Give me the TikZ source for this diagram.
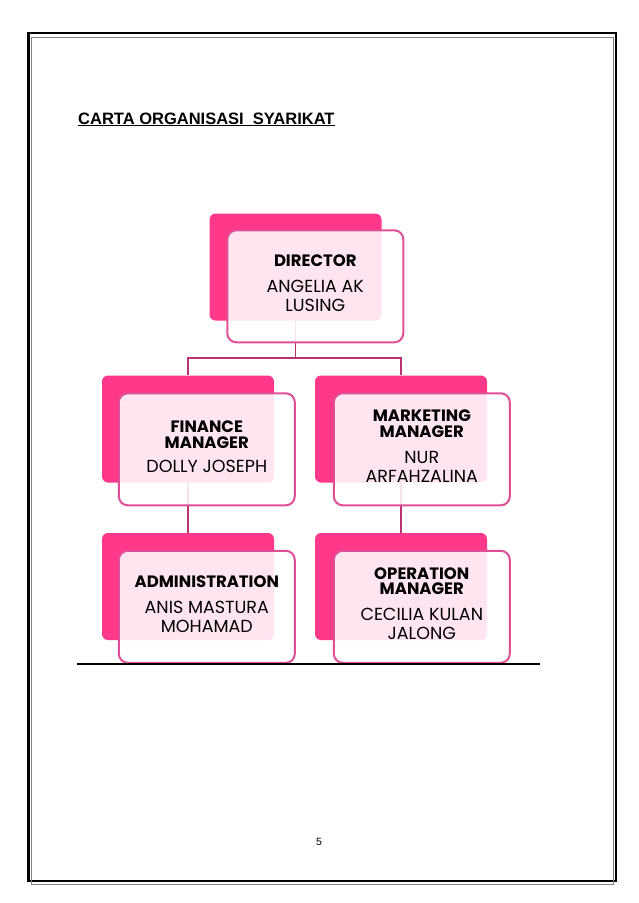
\documentclass[tikz,border=0pt]{standalone}
\usepackage{fontspec}
\setmainfont{Poppins}
\newfontfamily\arialfont{Liberation Sans}
\usepackage{tikz}
\usetikzlibrary{positioning, calc}
\usepackage{xcolor}
\definecolor{hotPink}{HTML}{FF388A}
\definecolor{edgePink}{HTML}{DE4F96}
\definecolor{linkPink}{HTML}{B8336F}

\newcommand{\ttl}{\bfseries\fontsize{16.5}{17}\selectfont}
\newcommand{\nm}{\fontsize{17.5}{19}\selectfont}

\tikzset{
  backbox/.style={fill=hotPink, rounded corners=6pt, minimum width=172pt,
                  minimum height=107pt, inner sep=0pt},
  frontbox/.style={draw=edgePink, line width=2pt, fill=white, fill opacity=0.87,
                   text opacity=1, rounded corners=9pt, minimum width=176pt,
                   minimum height=112pt, inner sep=0pt, align=center, font=\nm,
                   text depth=6pt},
  link/.style={draw=linkPink, line width=1.6pt}
}

\begin{document}
\begin{tikzpicture}[x=1pt, y=-1pt]
  \useasboundingbox (0,0) rectangle (638,903);

  % page frame
  \draw[line width=2.5pt] (28.5,33) rectangle (616,881);
  \draw[gray, line width=0.8pt] (31.5,37) rectangle (613,884.5);

  \node[anchor=base west, inner sep=0pt,
        font=\arialfont\bfseries\fontsize{16.5}{19}\selectfont]
    (title) at (78,124) {\underline{CARTA ORGANISASI\ \ SYARIKAT}};

  % back cards
  \node[backbox] (dirback) at (295.5,267) {};
  \node[backbox] (finback) at (188,429) {};
  \node[backbox] (mktback) at (401,429) {};
  \node[backbox] (admback) at (188,586.5) {};
  \node[backbox] (opsback) at (401,586.5) {};

  % links (under the front cards)
  \coordinate (split) at ($(dirback.south)+(0,37)$);
  \draw[link] (dirback.south) -- (split);
  \draw[link] (finback.north) |- (split) -| (mktback.north);
  \draw[link] (finback.south) -- (admback.north);
  \draw[link] (mktback.south) -- (opsback.north);

  % front cards
  \node[frontbox, below right=16pt and 17pt of dirback.north west] (dir)
    {{\ttl DIRECTOR}\\[7pt]ANGELIA AK\\LUSING};
  \node[frontbox, below right=17pt and 16pt of finback.north west] (fin)
    {{\ttl FINANCE}\\[-3pt]{\ttl MANAGER}\\[5pt]DOLLY JOSEPH};
  \node[frontbox, below right=17pt and 18pt of mktback.north west] (mkt)
    {{\ttl MARKETING}\\[-3pt]{\ttl MANAGER}\\[7pt]NUR\\ARFAHZALINA};
  \node[frontbox, below right=17pt and 16pt of admback.north west] (adm)
    {{\ttl ADMINISTRATION}\\[7pt]ANIS MASTURA\\MOHAMAD};
  \node[frontbox, below right=17pt and 18pt of opsback.north west] (ops)
    {{\ttl OPERATION}\\[-4pt]{\ttl MANAGER}\\[7pt]CECILIA KULAN\\JALONG};

  \draw[line width=1.2pt] (77,664) -- (540,664);

  \node[font=\arialfont\fontsize{10.5}{12}\selectfont] (pagenum) at (319,842) {5};
\end{tikzpicture}
\end{document}
